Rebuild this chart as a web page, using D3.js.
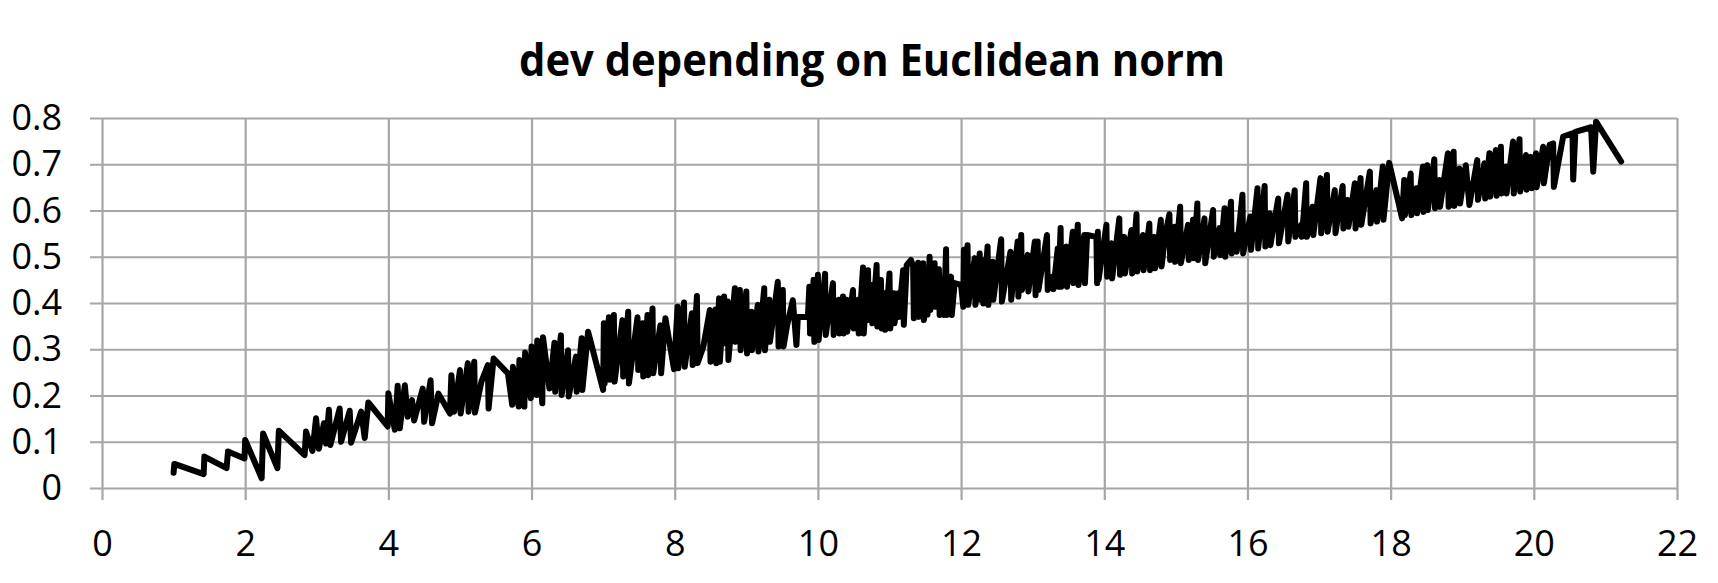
<!DOCTYPE html>
<html>
<head>
<meta charset="utf-8">
<script src="https://cdn.jsdelivr.net/npm/d3@7"></script>
<style>
  html, body { margin: 0; padding: 0; background: #fff; }
  #root { width: 1718px; height: 583px; }
</style>
</head>
<body>
<div id="root"></div>
<script>
const root = document.getElementById('root');

// Euclidean norm (x) and dev (y)
const normX = [
  1.00, 1.01, 1.42, 1.43, 1.74, 1.76, 1.99, 2.00, 2.23, 2.25, 2.45, 2.47, 2.83, 2.85, 2.94, 2.99,
  3.03, 3.10, 3.13, 3.17, 3.19, 3.32, 3.34, 3.46, 3.48, 3.62, 3.67, 3.72, 3.99, 4.00, 4.09, 4.13,
  4.16, 4.23, 4.27, 4.33, 4.36, 4.48, 4.50, 4.59, 4.61, 4.70, 4.86, 4.88, 4.92,
  5.00, 5.01, 5.11, 5.12, 5.20, 5.21, 5.30, 5.39, 5.40, 5.47, 5.67, 5.73, 5.74, 5.82, 5.83, 5.90,
  5.91, 5.99, 6.00, 6.07, 6.08, 6.15, 6.16, 6.25, 6.32, 6.33, 6.41, 6.42, 6.51, 6.52, 6.62, 6.63,
  6.70, 6.71, 6.79, 7.00, 7.01, 7.02, 7.08, 7.09, 7.15, 7.16, 7.27, 7.28, 7.35, 7.36, 7.48, 7.49,
  7.55, 7.56, 7.62, 7.63, 7.69, 7.70, 7.80, 7.81, 7.87, 7.99, 8.04, 8.05, 8.13, 8.14, 8.24, 8.25,
  8.31, 8.32, 8.40, 8.49, 8.50, 8.57, 8.58, 8.62, 8.63, 8.69, 8.70, 8.74, 8.75, 8.84, 8.85, 8.91, 8.92,
  9.00, 9.01, 9.07, 9.08, 9.16, 9.17, 9.25, 9.26, 9.32, 9.33, 9.44, 9.45, 9.51, 9.52, 9.57, 9.65,
  9.70, 9.72, 9.86, 9.88, 9.89, 9.94, 9.95, 10.00, 10.01, 10.10, 10.11, 10.21, 10.22, 10.29, 10.30,
  10.35, 10.36, 10.40, 10.41, 10.49, 10.50, 10.56, 10.57, 10.63, 10.64, 10.70, 10.71, 10.75, 10.76,
  10.82, 10.83, 10.88, 10.89, 10.93, 10.94, 11.00, 11.01, 11.06, 11.07, 11.12, 11.13, 11.19, 11.20,
  11.24, 11.30, 11.33, 11.34, 11.40, 11.41, 11.47, 11.48, 11.52, 11.53, 11.56, 11.57, 11.63, 11.64,
  11.69, 11.70, 11.75, 11.76, 11.79, 11.80, 11.86, 11.87, 11.91, 12.00, 12.03, 12.04, 12.05, 12.09,
  12.10, 12.19, 12.20, 12.26, 12.27, 12.30, 12.31, 12.37, 12.38, 12.44, 12.45, 12.56, 12.57, 12.69,
  12.70, 12.79, 12.80, 12.84, 12.85, 12.93, 12.94, 13.03, 13.04,
  13.07, 13.08, 13.20, 13.21, 13.28, 13.29, 13.35, 13.36, 13.39, 13.40, 13.47, 13.48, 13.56, 13.57,
  13.63, 13.64, 13.72, 13.73, 13.76, 13.89, 13.90, 13.91, 13.92, 14.03, 14.04, 14.10, 14.11, 14.21,
  14.22, 14.28, 14.29, 14.38, 14.39, 14.45, 14.46, 14.54, 14.55, 14.63, 14.64, 14.70, 14.71, 14.79,
  14.80, 14.85, 14.91, 14.92, 14.98, 14.99, 15.06, 15.07, 15.17, 15.18, 15.24, 15.25, 15.30, 15.31,
  15.40, 15.41, 15.52, 15.53, 15.61, 15.62, 15.68, 15.69, 15.77, 15.78, 15.84, 15.85, 15.93, 15.94,
  16.04, 16.05, 16.14, 16.15, 16.24, 16.25, 16.31, 16.32, 16.43, 16.44, 16.56, 16.57, 16.66, 16.67,
  16.75, 16.76, 16.82, 16.83, 16.91, 16.92, 17.02, 17.03, 17.11, 17.12,
  17.22, 17.23, 17.33, 17.34, 17.40, 17.41, 17.50, 17.51, 17.58, 17.59, 17.71, 17.72, 17.80, 17.81,
  17.89, 17.90, 17.98, 18.16, 18.19, 18.20, 18.28, 18.29, 18.36, 18.37, 18.45, 18.46, 18.51, 18.52,
  18.61, 18.62, 18.68, 18.69, 18.80, 18.81, 18.88, 18.89, 18.96, 18.97, 19.05, 19.10, 19.21, 19.22,
  19.31, 19.32, 19.38, 19.39, 19.47, 19.48, 19.54, 19.55, 19.61, 19.62, 19.71, 19.72, 19.80, 19.81,
  19.89, 19.90, 19.96, 19.97, 20.03, 20.04, 20.13, 20.14, 20.22, 20.27, 20.28, 20.41, 20.54, 20.55,
  20.58, 20.80, 20.83, 20.87, 21.22
];
const devY = [
  0.033, 0.052, 0.030, 0.068, 0.043, 0.079, 0.064, 0.104, 0.021, 0.118, 0.043, 0.124, 0.071, 0.122, 0.080, 0.151,
  0.085, 0.140, 0.096, 0.169, 0.093, 0.172, 0.100, 0.167, 0.098, 0.165, 0.108, 0.185, 0.133, 0.205, 0.126, 0.221,
  0.129, 0.222, 0.154, 0.190, 0.146, 0.215, 0.143, 0.233, 0.140, 0.204, 0.161, 0.244, 0.165,
  0.255, 0.161, 0.270, 0.165, 0.273, 0.163, 0.230, 0.266, 0.172, 0.280, 0.248, 0.180, 0.262, 0.176, 0.277, 0.176,
  0.293, 0.194, 0.306, 0.201, 0.319, 0.183, 0.326, 0.215, 0.314, 0.208, 0.330, 0.201, 0.298, 0.198, 0.284, 0.208,
  0.324, 0.212, 0.338, 0.212, 0.356, 0.226, 0.369, 0.234, 0.374, 0.230, 0.363, 0.241, 0.381, 0.226, 0.369, 0.255,
  0.356, 0.241, 0.374, 0.244, 0.388, 0.248, 0.352, 0.248, 0.367, 0.257, 0.392, 0.259, 0.401, 0.262, 0.378, 0.266,
  0.415, 0.270, 0.306, 0.385, 0.273, 0.386, 0.270, 0.410, 0.273, 0.414, 0.313, 0.403, 0.277, 0.432, 0.316, 0.428, 0.298,
  0.425, 0.291, 0.381, 0.298, 0.396, 0.295, 0.432, 0.298, 0.407, 0.316, 0.446, 0.306, 0.428, 0.306, 0.352, 0.406,
  0.309, 0.370, 0.370, 0.435, 0.334, 0.450, 0.316, 0.461, 0.320, 0.463, 0.331, 0.443, 0.331, 0.407, 0.334,
  0.414, 0.334, 0.407, 0.338, 0.428, 0.345, 0.407, 0.334, 0.477, 0.334, 0.471, 0.363, 0.439, 0.356,
  0.482, 0.349, 0.450, 0.345, 0.421, 0.342, 0.464, 0.345, 0.421, 0.356, 0.421, 0.370, 0.471, 0.353,
  0.482, 0.493, 0.479, 0.367, 0.487, 0.370, 0.486, 0.363, 0.407, 0.375, 0.500, 0.385, 0.486, 0.392,
  0.473, 0.374, 0.453, 0.374, 0.516, 0.374, 0.457, 0.374, 0.443, 0.439, 0.392, 0.515, 0.399, 0.525,
  0.396, 0.497, 0.396, 0.507, 0.407, 0.493, 0.399, 0.522, 0.396, 0.489, 0.407, 0.538, 0.403, 0.511,
  0.407, 0.533, 0.414, 0.547, 0.428, 0.504, 0.425, 0.533, 0.417,
  0.533, 0.428, 0.547, 0.428, 0.457, 0.430, 0.518, 0.435, 0.562, 0.435, 0.522, 0.435, 0.554, 0.443,
  0.569, 0.439, 0.547, 0.443, 0.547, 0.543, 0.443, 0.554, 0.450, 0.569, 0.457, 0.529, 0.453, 0.583,
  0.461, 0.543, 0.464, 0.558, 0.464, 0.592, 0.468, 0.547, 0.471, 0.572, 0.471, 0.543, 0.475, 0.580,
  0.479, 0.545, 0.592, 0.493, 0.565, 0.489, 0.608, 0.486, 0.569, 0.493, 0.580, 0.497, 0.615, 0.493,
  0.583, 0.486, 0.601, 0.500, 0.562, 0.504, 0.605, 0.500, 0.619, 0.507, 0.547, 0.511, 0.634, 0.507,
  0.587, 0.515, 0.648, 0.518, 0.653, 0.522, 0.594, 0.525, 0.626, 0.529, 0.634, 0.533, 0.644, 0.543,
  0.569, 0.543, 0.659, 0.543, 0.608, 0.547, 0.670, 0.551, 0.677, 0.554,
  0.644, 0.551, 0.653, 0.561, 0.623, 0.565, 0.659, 0.561, 0.670, 0.569, 0.684, 0.572, 0.644, 0.576,
  0.695, 0.580, 0.703, 0.583, 0.666, 0.590, 0.680, 0.590, 0.648, 0.594, 0.695, 0.597, 0.698, 0.601,
  0.711, 0.605, 0.666, 0.608, 0.724, 0.608, 0.727, 0.610, 0.691, 0.615, 0.698, 0.612, 0.709, 0.623,
  0.702, 0.626, 0.724, 0.630, 0.731, 0.632, 0.738, 0.637, 0.695, 0.637, 0.749, 0.637, 0.754, 0.641,
  0.720, 0.645, 0.716, 0.648, 0.724, 0.650, 0.738, 0.659, 0.742, 0.745, 0.651, 0.760, 0.767, 0.667,
  0.770, 0.780, 0.684, 0.792, 0.706
];

// Axis ticks
const xTicks = [0, 2, 4, 6, 8, 10, 12, 14, 16, 18, 20, 22];
const yTicks = [0, 0.1, 0.2, 0.3, 0.4, 0.5, 0.6, 0.7, 0.8];
const yTickLabels = ['0', '0.1', '0.2', '0.3', '0.4', '0.5', '0.6', '0.7', '0.8'];
const chartTitle = 'dev depending on Euclidean norm';

const dataset = normX.map((x, i) => ({ x: x, y: devY[i] }));

// Dimensions
const width = 1718;
const height = 583;
const plotLeft = 102;
const plotRight = 1677;
const plotTop = 118;
const plotBottom = 488;
const tickLen = 12;
const gridColor = '#a6a6a6';

const svg = d3.select(root)
  .append('svg')
  .attr('width', width)
  .attr('height', height);

const xScale = d3.scaleLinear().domain([0, 22]).range([plotLeft, plotRight]);
const yScale = d3.scaleLinear().domain([0, 0.8]).range([plotBottom, plotTop]);

// Horizontal gridlines + y labels
const yAxis = d3.axisLeft(yScale)
  .tickValues(yTicks)
  .tickFormat((d, i) => yTickLabels[i])
  .tickSizeInner(plotRight - (plotLeft - tickLen))
  .tickSizeOuter(0)
  .tickPadding(28);

const gy = svg.append('g')
  .attr('transform', `translate(${plotRight},0)`)
  .call(yAxis);
gy.select('.domain').remove();
gy.selectAll('line').attr('stroke', gridColor).attr('stroke-width', 2.2);
gy.selectAll('text')
  .attr('font-family', '"Open Sans", sans-serif')
  .attr('font-size', '36px')
  .attr('fill', '#000');

// Vertical gridlines + x labels
const xAxis = d3.axisBottom(xScale)
  .tickValues(xTicks)
  .tickFormat(d3.format('d'))
  .tickSizeInner(plotBottom + tickLen - plotTop)
  .tickSizeOuter(0)
  .tickPadding(30);

const gx = svg.append('g')
  .attr('transform', `translate(0,${plotTop})`)
  .call(xAxis);
gx.select('.domain').remove();
gx.selectAll('line').attr('stroke', gridColor).attr('stroke-width', 2.2);
gx.selectAll('text')
  .attr('font-family', '"Open Sans", sans-serif')
  .attr('font-size', '36px')
  .attr('fill', '#000');

// Title
svg.append('text')
  .attr('x', 872)
  .attr('y', 76)
  .attr('text-anchor', 'middle')
  .attr('font-family', '"Open Sans", sans-serif')
  .attr('font-weight', 'bold')
  .attr('font-size', '44px')
  .attr('textLength', 706)
  .attr('lengthAdjust', 'spacingAndGlyphs')
  .text(chartTitle);

// The line
const line = d3.line()
  .x(d => xScale(d.x))
  .y(d => yScale(d.y));

svg.append('path')
  .datum(dataset)
  .attr('d', line)
  .attr('fill', 'none')
  .attr('stroke', '#000')
  .attr('stroke-width', 6)
  .attr('stroke-linejoin', 'round')
  .attr('stroke-linecap', 'round');
</script>
</body>
</html>
